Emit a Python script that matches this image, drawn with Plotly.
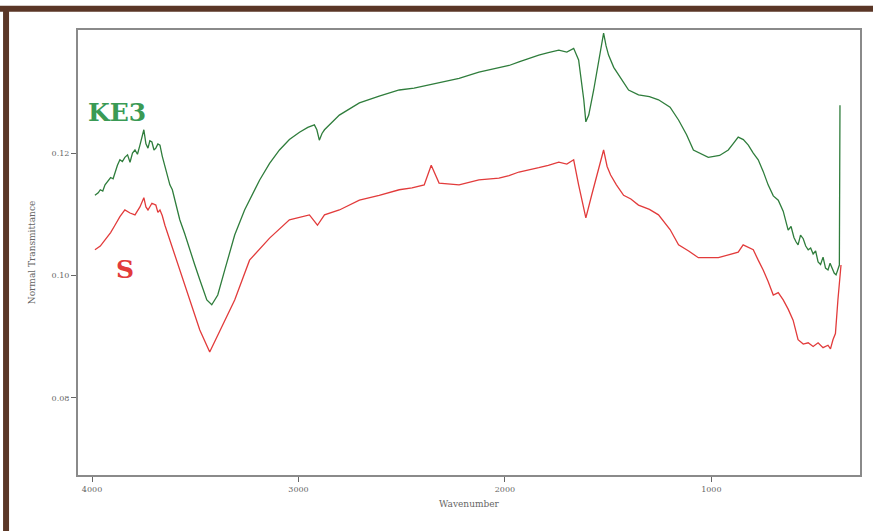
import plotly.graph_objects as go

# KE3 (green) spectrum
ke3_wn = [3986, 3970, 3960, 3948, 3937, 3922, 3910, 3898, 3889, 3877, 3865, 3853, 3841, 3828,
          3816, 3804, 3792, 3780, 3768, 3758, 3749, 3739, 3729, 3720, 3710, 3700, 3691, 3681,
          3671, 3660, 3647, 3635, 3623, 3611, 3599, 3587, 3575, 3551, 3527, 3503, 3478, 3444,
          3420, 3391, 3357, 3309, 3261, 3188, 3140, 3092, 3044, 2995, 2955, 2923, 2911, 2899,
          2886, 2874, 2802, 2705, 2609, 2512, 2440, 2367, 2295, 2222, 2126, 2029, 1980, 1932,
          1884, 1836, 1790, 1739, 1700, 1667, 1643, 1618, 1608, 1594, 1570, 1546, 1522, 1510,
          1498, 1473, 1449, 1425, 1401, 1353, 1300, 1256, 1200, 1159, 1120, 1087, 1015, 960,
          918, 895, 870, 845, 821, 797, 773, 749, 725, 700, 676, 652, 628, 614, 600, 590, 580,
          568, 555, 543, 531, 519, 507, 495, 483, 471, 459, 447, 435, 425, 415, 405, 396, 386,
          380, 377]
ke3_t = [0.1131, 0.1135, 0.1140, 0.1138, 0.1148, 0.1155, 0.1160, 0.1158, 0.1169, 0.1180, 0.1189,
         0.1186, 0.1193, 0.1197, 0.1185, 0.1200, 0.1205, 0.1198, 0.1213, 0.1225, 0.1238, 0.1215,
         0.1208, 0.1220, 0.1218, 0.1205, 0.1208, 0.1215, 0.1213, 0.1195, 0.1180, 0.1165, 0.1148,
         0.1140, 0.1123, 0.1110, 0.1091, 0.1068, 0.1042, 0.1018, 0.0993, 0.0960, 0.0952, 0.0968,
         0.1009, 0.1066, 0.1107, 0.1156, 0.1183, 0.1205, 0.1222, 0.1234, 0.1242, 0.1246, 0.1238,
         0.1221, 0.1232, 0.1238, 0.1262, 0.1282, 0.1293, 0.1303, 0.1306, 0.1311, 0.1316, 0.1322,
         0.1332, 0.1340, 0.1343, 0.1349, 0.1355, 0.1360, 0.1364, 0.1368, 0.1365, 0.1371, 0.1352,
         0.1287, 0.1251, 0.1262, 0.1303, 0.1352, 0.1396, 0.1375, 0.1360, 0.1340, 0.1327, 0.1315,
         0.1303, 0.1295, 0.1292, 0.1287, 0.1275, 0.1254, 0.1230, 0.1205, 0.1193, 0.1196, 0.1205,
         0.1215, 0.1226, 0.1222, 0.1213, 0.1200, 0.1189, 0.1170, 0.1148, 0.1130, 0.1123, 0.1105,
         0.1074, 0.1080, 0.1062, 0.1055, 0.1050, 0.1066, 0.1060, 0.1048, 0.1042, 0.1045, 0.1035,
         0.1040, 0.1022, 0.1018, 0.1030, 0.1012, 0.1009, 0.1020, 0.1012, 0.1004, 0.1001, 0.1010,
         0.1017, 0.1278]

# S (red) spectrum
s_wn = [3986, 3960, 3937, 3910, 3889, 3865, 3841, 3816, 3792, 3768, 3749, 3739, 3729, 3710,
        3691, 3681, 3671, 3660, 3647, 3623, 3599, 3575, 3527, 3478, 3430, 3391, 3350, 3309,
        3237, 3140, 3044, 2947, 2908, 2874, 2802, 2705, 2609, 2512, 2450, 2391, 2357, 2319,
        2222, 2126, 2029, 1980, 1932, 1884, 1836, 1790, 1739, 1700, 1667, 1643, 1608, 1580,
        1546, 1522, 1505, 1488, 1460, 1425, 1390, 1353, 1300, 1256, 1200, 1159, 1110, 1063, 966,
        870, 846, 822, 797, 773, 749, 725, 700, 676, 652, 628, 604, 580, 555, 531, 507, 483,
        459, 435, 423, 411, 399, 387, 372]
s_t = [0.1042, 0.1048, 0.1058, 0.1070, 0.1082, 0.1096, 0.1107, 0.1102, 0.1099, 0.1112, 0.1127,
       0.1112, 0.1107, 0.1118, 0.1115, 0.1103, 0.1107, 0.1098, 0.1082, 0.1058, 0.1035, 0.1009,
       0.0960, 0.0911, 0.0875, 0.0903, 0.0930, 0.0960, 0.1025, 0.1061, 0.1091, 0.1099, 0.1082,
       0.1099, 0.1107, 0.1123, 0.1131, 0.1140, 0.1143, 0.1148, 0.1180, 0.1151, 0.1148, 0.1156,
       0.1159, 0.1163, 0.1169, 0.1172, 0.1176, 0.1180, 0.1185, 0.1182, 0.1189, 0.1148, 0.1094,
       0.1131, 0.1172, 0.1205, 0.1178, 0.1164, 0.1148, 0.1131, 0.1125, 0.1115, 0.1108, 0.1099,
       0.1075, 0.1050, 0.1040, 0.1029, 0.1029, 0.1038, 0.1050, 0.1046, 0.1042, 0.1025, 0.1009,
       0.0990, 0.0968, 0.0972, 0.0960, 0.0945, 0.0927, 0.0895, 0.0888, 0.0890, 0.0884, 0.0890,
       0.0882, 0.0886, 0.0880, 0.0895, 0.0905, 0.0960, 0.1017]

x_ticks = [4000, 3000, 2000, 1000]
x_labels = ["4000", "3000", "2000", "1000"]
y_ticks = [0.12, 0.10, 0.08]
y_labels = ["0.12", "0.10", "0.08"]

GREEN = "#2f7d3c"
RED = "#e23b3b"

fig = go.Figure()
fig.add_trace(go.Scatter(x=ke3_wn, y=ke3_t, mode="lines", name="KE3",
                         line=dict(color=GREEN, width=1.3)))
fig.add_trace(go.Scatter(x=s_wn, y=s_t, mode="lines", name="S",
                         line=dict(color=RED, width=1.3)))

fig.add_annotation(x=3880, y=0.1266, text="<b>KE3</b>", showarrow=False,
                   font=dict(family="DejaVu Serif", size=25, color="#3a9a55"))
fig.add_annotation(x=3840, y=0.1010, text="<b>S</b>", showarrow=False,
                   font=dict(family="DejaVu Serif", size=25, color=RED))

# brown scan border (top and left)
fig.add_shape(type="line", xref="paper", yref="paper", x0=-0.1, x1=1.02, y0=1.048, y1=1.048,
              line=dict(color="#5a3626", width=6))
fig.add_shape(type="line", xref="paper", yref="paper", x0=-0.092, x1=-0.092, y0=1.054, y1=-0.2,
              line=dict(color="#5a3626", width=6))

axis_common = dict(showgrid=False, zeroline=False, showline=True, linecolor="#8a8a8a",
                   linewidth=2, mirror=True, ticks="outside", ticklen=5, tickcolor="#666",
                   tickfont=dict(family="DejaVu Serif", size=8, color="#666"))

fig.update_layout(
    width=873, height=531,
    margin=dict(l=78, r=11, t=30, b=56),
    paper_bgcolor="white", plot_bgcolor="white",
    showlegend=False,
    xaxis=dict(range=[4068, 280], tickvals=x_ticks, ticktext=x_labels,
               title=dict(text="Wavenumber", font=dict(family="DejaVu Serif", size=9, color="#666"),
                          standoff=8),
               **axis_common),
    yaxis=dict(range=[0.0674, 0.1401], tickvals=y_ticks, ticktext=y_labels,
               title=dict(text="Normal Transmittance", font=dict(family="DejaVu Serif", size=9, color="#666"),
                          standoff=14),
               **axis_common),
)

fig.write_html("out.html")
